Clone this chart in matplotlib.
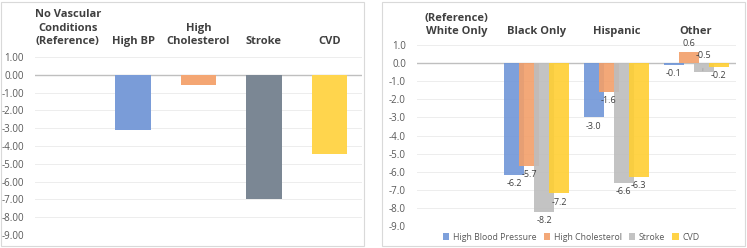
import matplotlib.pyplot as plt
from matplotlib.patches import Rectangle
import numpy as np

# left panel data
vasc_labels = ['No Vascular\nConditions\n(Reference)', 'High BP', 'High\nCholesterol', 'Stroke', 'CVD']
vasc_values = [0.0, -3.1, -0.6, -6.95, -4.45]
vasc_colors = ['#7A9CD8', '#7A9CD8', '#F4A673', '#7B8794', '#FFD54D']

# right panel data
race_labels = ['(Reference)\nWhite Only', 'Black Only', 'Hispanic', 'Other']
series_names = ['High Blood Pressure', 'High Cholesterol', 'Stroke', 'CVD']
high_bp = [None, -6.2, -3.0, -0.1]
high_chol = [None, -5.7, -1.6, 0.6]
stroke = [None, -8.2, -6.6, -0.5]
cvd = [None, -7.2, -6.3, -0.2]
series_colors = ['#7096D8', '#F29F69', '#BDBDBD', '#FFCF33']

W, H = 747, 248
fig = plt.figure(figsize=(W / 100, H / 100), dpi=100)
plt.rcParams['font.family'] = ['Open Sans', 'DejaVu Sans']

def px_axes(l, r, t, b):
    return fig.add_axes([l / W, 1 - b / H, (r - l) / W, (b - t) / H])

# panel borders
for x0, x1 in [(1, 364), (382, 745)]:
    fig.patches.append(Rectangle((x0 / W, 2 / H), (x1 - x0) / W, 244 / H,
                                 transform=fig.transFigure, fill=False,
                                 edgecolor='#D9D9D9', lw=0.8))

tick_col = '#595959'
text_col = '#404040'

def style(ax, fmt):
    ax.set_ylim(-9, 1)
    ax.set_yticks(np.arange(-9, 1.01, 1))
    ax.set_yticklabels([fmt.format(v) for v in np.arange(-9, 1.01, 1)])
    ax.tick_params(axis='y', length=0, labelsize=7, colors=tick_col, pad=8)
    ax.set_xticks([])
    for s in ax.spines.values():
        s.set_visible(False)
    ax.grid(axis='y', color='#EDEDED', lw=0.7)
    ax.set_axisbelow(True)
    ax.axhline(0, color='#BFBFBF', lw=1.0, zorder=1)

# left chart
ax1 = px_axes(35, 362, 57, 235)
style(ax1, '{:.2f}')
x1 = np.arange(len(vasc_labels))
ax1.bar(x1, vasc_values, width=0.54, color=vasc_colors, zorder=2)
ax1.set_xlim(-0.5, len(vasc_labels) - 0.5)
for i, lab in enumerate(vasc_labels):
    ax1.annotate(lab, (i, 1), xycoords=('data', 'axes fraction'),
                 xytext=(0, 7), textcoords='offset points', ha='center', va='bottom',
                 fontsize=8, fontweight='bold', color=text_col, linespacing=1.3)

# right chart
ax2 = px_axes(417, 736, 45, 226)
style(ax2, '{:.1f}')
x2 = np.arange(len(race_labels))
width = 0.25
step = 0.1875
all_series = [high_bp, high_chol, stroke, cvd]
for k, (vals, name, col) in enumerate(zip(all_series, series_names, series_colors)):
    xs = x2 + (k - 1.5) * step
    v = np.array([np.nan if a is None else a for a in vals], dtype=float)
    ax2.bar(xs, np.nan_to_num(v), width=width, color=col, alpha=0.9, label=name, zorder=2)
    for xi, vi in zip(xs, v):
        if np.isnan(vi):
            continue
        txt = '{:.1f}'.format(vi)
        if name == 'Stroke' and abs(vi) < 1:
            # label pulled above with leader line
            ax2.annotate(txt, (xi - 0.01, vi * 0.85), xytext=(xi + 0.0, 0.42),
                         ha='center', va='center', fontsize=6.5, color=text_col,
                         arrowprops=dict(arrowstyle='-', color='#A6A6A6', lw=0.6,
                                         shrinkA=4, shrinkB=0))
            continue
        if vi >= 0:
            ax2.annotate(txt, (xi, vi), xytext=(0, 3), textcoords='offset points',
                         ha='center', va='bottom', fontsize=6.5, color=text_col)
        else:
            ax2.annotate(txt, (xi, vi), xytext=(0, -3), textcoords='offset points',
                         ha='center', va='top', fontsize=6.5, color=text_col)
ax2.set_xlim(-0.5, len(race_labels) - 0.5)
for i, lab in enumerate(race_labels):
    ax2.annotate(lab, (i, 1), xycoords=('data', 'axes fraction'),
                 xytext=(0, 6), textcoords='offset points', ha='center', va='bottom',
                 fontsize=8, fontweight='bold', color=text_col, linespacing=1.2)

fig.legend(loc='center', bbox_to_anchor=(571 / W, 1 - 237 / H), ncol=4,
           fontsize=6.3, frameon=False, handlelength=0.75, handleheight=0.75,
           handletextpad=0.4, columnspacing=0.8, labelcolor=tick_col)

fig.savefig('out.png', dpi=100)
